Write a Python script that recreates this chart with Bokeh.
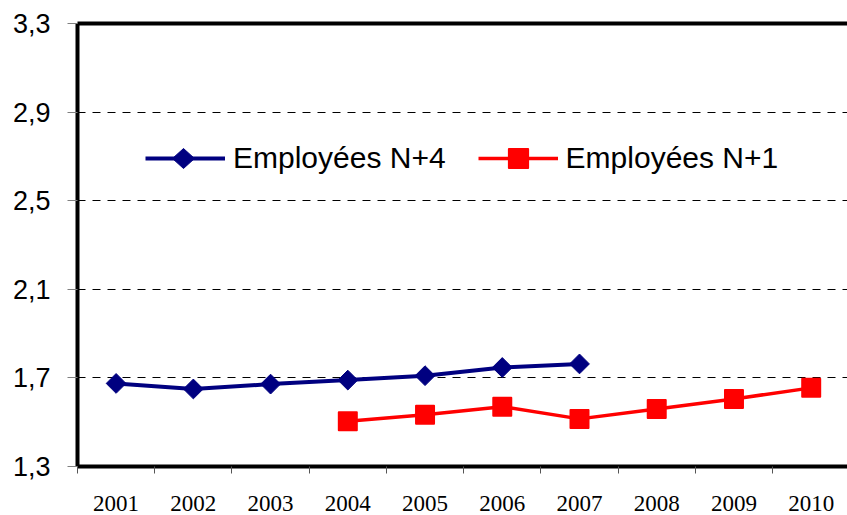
import numpy as np
from bokeh.plotting import figure
from bokeh.models import (Range1d, FixedTicker, LinearAxis, Legend, LegendItem,
                          CustomJSTickFormatter, PolyAnnotation)
from bokeh.embed import file_html
from bokeh.resources import INLINE

# ---- data ----
years = ["2001", "2002", "2003", "2004", "2005", "2006", "2007", "2008", "2009", "2010"]
n4_years = ["2001", "2002", "2003", "2004", "2005", "2006", "2007"]
n4_values = [1.675, 1.650, 1.672, 1.690, 1.710, 1.747, 1.763]
n1_years = ["2004", "2005", "2006", "2007", "2008", "2009", "2010"]
n1_values = [1.504, 1.534, 1.570, 1.515, 1.560, 1.605, 1.655]
y_ticks = [1.3, 1.7, 2.1, 2.5, 2.9, 3.3]
grid_ticks = [1.7, 2.1, 2.5, 2.9]

pos = {y: i + 1 for i, y in enumerate(years)}
x4 = [pos[y] for y in n4_years]
x1 = [pos[y] for y in n1_years]

BLUE = "#000080"
RED = "#FF0000"

p = figure(width=847, height=515, output_backend="svg", toolbar_location=None,
           x_range=Range1d(0.5, 10.47), y_range=Range1d(1.3, 3.3),
           min_border_left=77, min_border_right=0, min_border_top=23,
           min_border_bottom=49, outline_line_color=None,
           background_fill_color="white", border_fill_color="white")

# x axis
xa = p.xaxis[0]
xa.ticker = FixedTicker(ticks=list(range(1, len(years) + 1)),
                        minor_ticks=[i + 0.5 for i in range(len(years))])
xa.major_label_overrides = {i + 1: y for i, y in enumerate(years)}
xa.major_tick_line_color = None
xa.major_tick_out = 0
xa.major_tick_in = 0
xa.minor_tick_out = 7
xa.minor_tick_in = 0
xa.minor_tick_line_color = "#555555"
xa.axis_line_width = 4
xa.axis_line_color = "black"
xa.major_label_text_font = "Liberation Serif"
xa.major_label_text_font_size = "23px"
xa.major_label_text_color = "black"
xa.major_label_standoff = 22

# y axis
ya = p.yaxis[0]
ya.ticker = FixedTicker(ticks=y_ticks)
ya.formatter = CustomJSTickFormatter(code="return tick.toFixed(1).replace('.', ',');")
ya.axis_line_width = 4
ya.axis_line_color = "black"
ya.major_tick_out = 10
ya.major_tick_in = 0
ya.major_tick_line_color = "#808080"
ya.minor_tick_line_color = None
ya.major_label_text_font = "Liberation Sans"
ya.major_label_text_font_size = "27px"
ya.major_label_text_color = "black"
ya.major_label_standoff = 17

# top border
top = LinearAxis(ticker=FixedTicker(ticks=[]), axis_line_width=4, axis_line_color="black",
                 major_tick_line_color=None, minor_tick_line_color=None,
                 major_label_text_font_size="0px")
p.add_layout(top, "above")

# grid
p.xgrid.visible = False
p.ygrid.ticker = FixedTicker(ticks=grid_ticks)
p.ygrid.grid_line_color = "black"
p.ygrid.grid_line_dash = "8 7"
p.ygrid.grid_line_width = 1

# series
l4 = p.line(x4, n4_values, line_color=BLUE, line_width=4)
s4 = p.scatter(x4, n4_values, marker="square", angle=np.pi / 4, size=14,
               fill_color=BLUE, line_color=BLUE)
l1 = p.line(x1, n1_values, line_color=RED, line_width=3.5)
s1 = p.scatter(x1, n1_values, marker="square", size=18,
               fill_color=RED, line_color=RED, line_width=2, line_join="round")

# legend
LEG_X, LEG_Y, GW, GH = 68, 284, 80, 48
legend = Legend(items=[LegendItem(label="Employées N+4", renderers=[l4]),
                       LegendItem(label="Employées N+1", renderers=[l1, s1])],
                orientation="horizontal", location=(LEG_X, LEG_Y),
                glyph_width=GW, glyph_height=GH, label_standoff=8, spacing=32,
                padding=0, margin=0, border_line_color=None, background_fill_alpha=0,
                label_text_font="Liberation Sans", label_text_font_size="30px",
                label_text_color="black")
p.add_layout(legend)

# diamond symbol of the first legend entry (Bokeh legends draw markers unrotated)
cx, cy, hw, hh = LEG_X + GW / 2 - 2, LEG_Y + GH / 2, 11, 10
diamond = PolyAnnotation(xs=[cx - hw, cx, cx + hw, cx], ys=[cy, cy + hh, cy, cy - hh],
                         xs_units="screen", ys_units="screen",
                         fill_color=BLUE, fill_alpha=1, line_color=BLUE, line_alpha=1,
                         line_width=1)
p.add_layout(diamond)

open("out.html", "w").write(file_html(p, INLINE))
